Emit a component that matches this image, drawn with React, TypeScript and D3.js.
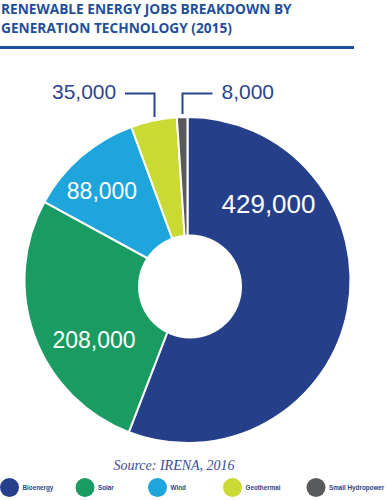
import {useEffect, useRef} from 'react'
import * as d3 from 'd3'

// data
const categories = ['Bioenergy', 'Solar', 'Wind', 'Geothermal', 'Small Hydropower']
const jobs = [429000, 208000, 88000, 35000, 8000]
const colors = ['#263f8a', '#199b62', '#1ea5dc', '#cbd935', '#58595b']
const titleLines = ['RENEWABLE ENERGY JOBS BREAKDOWN BY', 'GENERATION TECHNOLOGY (2015)']
const source = 'Source: IRENA, 2016'

function App(){
    const svg = useRef<SVGSVGElement>(null)

    useEffect(() => {
        const W = 388, H = 500
        const cx = 187.5, cy = 280, R = 163

        const svgRef = d3.select(svg.current)
            .attr('width', W)
            .attr('height', H)
            .attr('viewBox', `0 0 ${W} ${H}`)
            .style('position', 'absolute')
            .style('left', '0px')
            .style('top', '0px')
            .style('background', '#fff')

        svgRef.selectAll('*').remove()

        //Title
        svgRef.append('g').selectAll('text')
            .data(titleLines)
            .join('text')
                .attr('x', 1)
                .attr('y', (d, i) => 14 + i * 19.3)
                .attr('fill', '#1f4f9b')
                .style('font', 'bold 13.7px "Open Sans", sans-serif')
                .text(d => d)

        svgRef.append('rect')
            .attr('x', 0)
            .attr('y', 46)
            .attr('width', 354)
            .attr('height', 3)
            .attr('fill', '#1f4f9b')

        //Donut
        const pie = d3.pie<number>().sort(null).value(d => d)
        const arcs = pie(jobs)
        const arc = d3.arc<d3.PieArcDatum<number>>().innerRadius(0).outerRadius(R)

        const g = svgRef.append('g').attr('transform', `translate(${cx},${cy})`)

        g.selectAll('path')
            .data(arcs)
            .join('path')
                .attr('d', arc)
                .attr('fill', (d, i) => colors[i])
                .attr('stroke', '#fff')
                .attr('stroke-width', 2)
                .attr('stroke-linejoin', 'round')

        //hole sits slightly off the slice centre in the original
        g.append('circle')
            .attr('cx', 2.5)
            .attr('cy', 6.5)
            .attr('r', 52)
            .attr('fill', '#fff')

        //Inside labels
        const inside = [
            {i: 0, x: 268.5, y: 212.5, size: 26},
            {i: 1, x: 94, y: 347.5, size: 23},
            {i: 2, x: 102, y: 199, size: 23},
        ]
        svgRef.append('g').selectAll('text')
            .data(inside)
            .join('text')
                .attr('x', d => d.x)
                .attr('y', d => d.y)
                .attr('text-anchor', 'middle')
                .attr('fill', '#fff')
                .style('font-family', '"Liberation Sans", Arial, sans-serif')
                .style('font-size', d => d.size + 'px')
                .text(d => d3.format(',')(jobs[d.i]))

        //Outside labels with leader lines
        const outside = [
            {i: 3, lx: 52, anchor: 'start', path: 'M125,93.5 H154.5 V117'},
            {i: 4, lx: 221.5, anchor: 'start', path: 'M212.5,93.5 H182.5 V114'},
        ]
        const og = svgRef.append('g')
        og.selectAll('path')
            .data(outside)
            .join('path')
                .attr('d', d => d.path)
                .attr('fill', 'none')
                .attr('stroke', '#2b4590')
                .attr('stroke-width', 2)
        og.selectAll('text')
            .data(outside)
            .join('text')
                .attr('x', d => d.lx)
                .attr('y', 98.5)
                .attr('text-anchor', d => d.anchor)
                .attr('fill', '#2b4590')
                .style('font', '21px "Liberation Sans", Arial, sans-serif')
                .text(d => d3.format(',')(jobs[d.i]))

        //Source
        svgRef.append('text')
            .attr('x', 174)
            .attr('y', 469.5)
            .attr('text-anchor', 'middle')
            .attr('fill', '#3a4c9a')
            .style('font', 'italic 14px "Liberation Serif", "Times New Roman", serif')
            .text(source)

        //Legend
        const legendX = [9.5, 85, 157.5, 232.5, 316]
        const lg = svgRef.append('g').selectAll('g')
            .data(categories)
            .join('g')
                .attr('transform', (d, i) => `translate(${legendX[i]},487.5)`)
        lg.append('circle')
            .attr('r', 9.5)
            .attr('fill', (d, i) => colors[i])
        lg.append('text')
            .attr('x', 13)
            .attr('y', 2.3)
            .attr('fill', '#2e4287')
            .style('font', 'bold 6.3px "Liberation Sans", Arial, sans-serif')
            .text(d => d)
    }, [])

    return(
        <svg ref={svg}></svg>
    )
}

export default App
